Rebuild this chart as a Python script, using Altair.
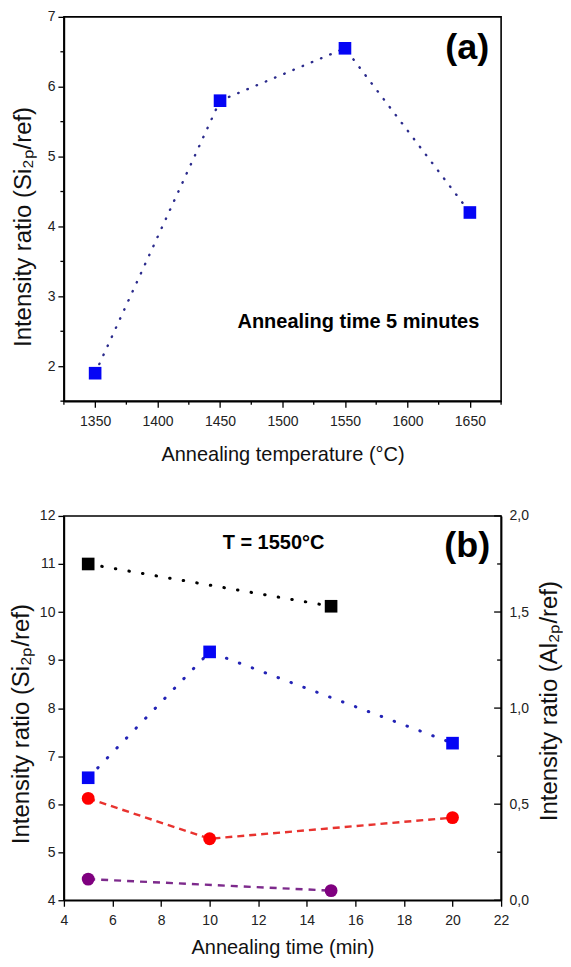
import altair as alt
import pandas as pd

# ---------------- data: panel (a) ----------------
temp_c = [1350, 1450, 1550, 1650]
ratio_a = [1.9, 5.8, 6.55, 4.2]

a_x_major = [1350, 1400, 1450, 1500, 1550, 1600, 1650]
a_x_minor = [1325, 1375, 1425, 1475, 1525, 1575, 1625, 1675]
a_y_major = [2, 3, 4, 5, 6, 7]
a_y_minor = [1.5, 2.5, 3.5, 4.5, 5.5, 6.5]

# ---------------- data: panel (b) ----------------
time_black = [5, 15]
si_black = [11.0, 10.12]
time_blue = [5, 10, 20]
si_blue = [6.55, 9.17, 7.27]
time_red = [5, 10, 20]
al_red = [0.53, 0.32, 0.43]
time_purple = [5, 15]
al_purple = [0.11, 0.05]

b_x_major = [4, 6, 8, 10, 12, 14, 16, 18, 20, 22]
b_yl_major = [4, 5, 6, 7, 8, 9, 10, 11, 12]
b_yr_major = [0.0, 0.5, 1.0, 1.5, 2.0]
b_yr_minor = [0.25, 0.75, 1.25, 1.75]

FONT = "Liberation Sans, Arial, sans-serif"
W, H = 438, 385

def df(xs, ys):
    return pd.DataFrame({"x": xs, "y": ys})

def vals(v):
    return pd.DataFrame({"v": v})

def txt(s):
    return pd.DataFrame({"t": [s]})

# ================= panel (a) =================
xa_scale = alt.Scale(domain=[1325, 1675], nice=False, zero=False)
ya_scale = alt.Scale(domain=[1.5, 7], nice=False, zero=False)

xa_axis = alt.Axis(values=a_x_major, format="d", tickSize=6, labelPadding=7,
                   title="Annealing temperature (°C)", titlePadding=16,
                   labelFlush=False, labelOverlap=False)
ya_axis = alt.Axis(values=a_y_major, format="d", tickSize=6, labelPadding=3,
                   title="Intensity ratio (Si₂ₚ/ref)", titlePadding=12,
                   titleFontSize=24, titleY=210, labelOverlap=False)

XA = alt.X("x:Q", scale=xa_scale, axis=xa_axis)
YA = alt.Y("y:Q", scale=ya_scale, axis=ya_axis)

a_line = alt.Chart(df(temp_c, ratio_a)).mark_line(
    color="#2b2b8c", strokeWidth=2.4, strokeDash=[0.5, 9.5], strokeCap="round"
).encode(x=XA, y=YA)

a_pts = alt.Chart(df(temp_c, ratio_a)).mark_square(
    size=160, color="#0505f5", opacity=1
).encode(x=XA, y=YA)

a_xminor = alt.Chart(vals(a_x_minor)).mark_rule(color="black", strokeWidth=1.3).encode(
    x=alt.X("v:Q", scale=xa_scale, axis=xa_axis),
    y=alt.value(H), y2=alt.value(H + 3.5))

a_yminor = alt.Chart(vals(a_y_minor)).mark_rule(color="black", strokeWidth=1.3).encode(
    y=alt.Y("v:Q", scale=ya_scale, axis=ya_axis),
    x=alt.value(-3.5), x2=alt.value(0))

a_label = alt.Chart(txt("(a)")).mark_text(
    font=FONT, fontSize=36, fontWeight="bold", color="black", align="center", baseline="middle"
).encode(x=alt.value(404), y=alt.value(31), text="t:N")

a_note = alt.Chart(txt("Annealing time 5 minutes")).mark_text(
    font=FONT, fontSize=20, fontWeight="bold", color="black", align="center", baseline="middle"
).encode(x=alt.value(295), y=alt.value(306), text="t:N")

panel_a = alt.layer(a_line, a_pts, a_xminor, a_yminor, a_label, a_note).properties(
    width=W, height=H)

# ================= panel (b) =================
xb_scale = alt.Scale(domain=[4, 22], nice=False, zero=False)
ybl_scale = alt.Scale(domain=[4, 12], nice=False, zero=False)
ybr_scale = alt.Scale(domain=[0, 2], nice=False, zero=False)

xb_axis = alt.Axis(values=b_x_major, format="d", tickSize=6, labelPadding=7,
                   title="Annealing time (min)", titlePadding=10,
                   labelFlush=False, labelOverlap=False)
ybl_axis = alt.Axis(values=b_yl_major, format="d", tickSize=6, labelPadding=3,
                    title="Intensity ratio (Si₂ₚ/ref)", titlePadding=6,
                    titleFontSize=24, titleY=208, labelOverlap=False)
ybr_axis = alt.Axis(values=b_yr_major, orient="right", ticks=False, labelPadding=8,
                    labelExpr="replace(format(datum.value, '.1f'), '.', ',')",
                    title="Intensity ratio (Al₂ₚ/ref)", titlePadding=9,
                    titleFontSize=24, titleAngle=270, titleBaseline="top",
                    titleY=185, labelOverlap=False)

XB = alt.X("x:Q", scale=xb_scale, axis=xb_axis)
YBL = alt.Y("y:Q", scale=ybl_scale, axis=ybl_axis)
YBR = alt.Y("y:Q", scale=ybr_scale, axis=ybr_axis)

black_line = alt.Chart(df(time_black, si_black)).mark_line(
    color="black", strokeWidth=3, strokeDash=[0.5, 13.3], strokeCap="round"
).encode(x=XB, y=YBL)
black_pts = alt.Chart(df(time_black, si_black)).mark_square(
    size=160, color="black", opacity=1
).encode(x=XB, y=YBL)
blue_line = alt.Chart(df(time_blue, si_blue)).mark_line(
    color="#2323b5", strokeWidth=3, strokeDash=[0.5, 13.3], strokeCap="round"
).encode(x=XB, y=YBL)
blue_pts = alt.Chart(df(time_blue, si_blue)).mark_square(
    size=160, color="#0505f5", opacity=1
).encode(x=XB, y=YBL)

b_label = alt.Chart(txt("(b)")).mark_text(
    font=FONT, fontSize=36, fontWeight="bold", color="black", align="center", baseline="middle"
).encode(x=alt.value(404), y=alt.value(30), text="t:N")
b_note = alt.Chart(txt("T = 1550°C")).mark_text(
    font=FONT, fontSize=20, fontWeight="bold", color="black", align="center", baseline="middle"
).encode(x=alt.value(210), y=alt.value(27), text="t:N")

left_b = alt.layer(black_line, blue_line, black_pts, blue_pts, b_label, b_note)

red_line = alt.Chart(df(time_red, al_red)).mark_line(
    color="#e8332f", strokeWidth=2.4, strokeDash=[7, 5]
).encode(x=XB, y=YBR)
red_pts = alt.Chart(df(time_red, al_red)).mark_circle(
    size=165, color="#ff0000", opacity=1
).encode(x=XB, y=YBR)
purple_line = alt.Chart(df(time_purple, al_purple)).mark_line(
    color="#7d2a8c", strokeWidth=2.4, strokeDash=[7, 6]
).encode(x=XB, y=YBR)
purple_pts = alt.Chart(df(time_purple, al_purple)).mark_circle(
    size=165, color="#7f007f", opacity=1
).encode(x=XB, y=YBR)
r_major = alt.Chart(vals(b_yr_major)).mark_rule(color="black", strokeWidth=1.3).encode(
    y=alt.Y("v:Q", scale=ybr_scale, axis=ybr_axis),
    x=alt.value(W - 7), x2=alt.value(W))
r_minor = alt.Chart(vals(b_yr_minor)).mark_rule(color="black", strokeWidth=1.3).encode(
    y=alt.Y("v:Q", scale=ybr_scale, axis=ybr_axis),
    x=alt.value(W - 4), x2=alt.value(W))

right_b = alt.layer(red_line, purple_line, red_pts, purple_pts, r_major, r_minor)

panel_b = alt.layer(left_b, right_b).resolve_scale(y="independent").properties(
    width=W, height=H)

chart = alt.vconcat(panel_a, panel_b, spacing=43).configure(
    font=FONT,
    padding={"left": 0, "top": 0, "right": 0, "bottom": 0},
    background="white",
).configure_view(stroke="black", strokeWidth=1.6).configure_axis(
    labelFont=FONT, titleFont=FONT, labelFontSize=14, titleFontSize=20,
    titleFontWeight="normal", labelColor="#222222", titleColor="#111111",
    domainColor="black", domainWidth=1.6, tickColor="black", tickWidth=1.3,
    grid=False,
)

chart.save("out.html", embed_options={"renderer": "svg", "actions": False})
